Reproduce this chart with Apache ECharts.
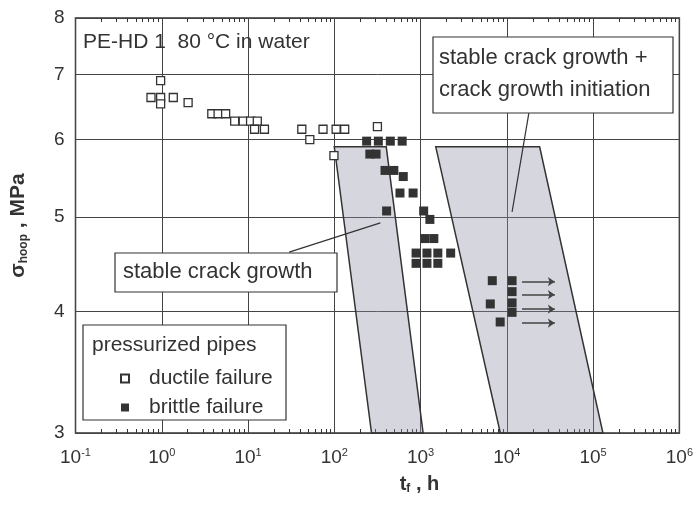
<!DOCTYPE html>
<html>
<head>
<meta charset="utf-8">
<script src="https://cdn.jsdelivr.net/npm/echarts@6/dist/echarts.min.js"></script>
<style>
  html, body { margin: 0; padding: 0; background: #fff; }
  #chart { width: 696px; height: 508px; }
</style>
</head>
<body>
<div id="chart"></div>
<script>
// time to failure t_f (h) and hoop stress (MPa)
const ductileT = [0.97, 0.75, 0.97, 1.36, 0.97, 2.02, 3.8, 4.5, 5.5, 7.0, 8.8, 10.7, 12.8, 11.9, 15.5, 42, 52, 74, 105, 132, 99, 316]
const ductileS = [6.90, 6.63, 6.63, 6.63, 6.53, 6.55, 6.38, 6.38, 6.38, 6.27, 6.27, 6.27, 6.27, 6.15, 6.15, 6.15, 6.0, 6.15, 6.15, 6.15, 5.78, 6.19]
const brittleT = [237, 324, 446, 612, 258, 305, 387, 490, 630, 577, 819, 404, 1086, 1282, 1124, 1425,
  887, 1186, 1585, 2233, 887, 1186, 1585, 6780, 6430, 8370, 11500, 11500, 11500, 11500]
const brittleS = [5.98, 5.98, 5.98, 5.98, 5.80, 5.80, 5.58, 5.58, 5.50, 5.29, 5.29, 5.07, 5.07, 4.97, 4.75, 4.75,
  4.59, 4.59, 4.59, 4.59, 4.48, 4.48, 4.48, 4.30, 4.07, 3.90, 4.30, 4.19, 4.08, 3.99]
// run-outs (arrows)
const runoutT = [15000, 36000]
const runoutS = [4.29, 4.16, 4.02, 3.89]
// shaded regions, corners (t, sigma)
const bandCrackT = [100, 400, 1070, 270]
const bandCrackS = [5.9, 5.9, 3, 3]
const bandInitT = [1500, 24000, 130000, 8400]
const bandInitS = [5.9, 5.9, 3, 3]
// tick labels
const xTicks = [0.1, 1, 10, 100, 1000, 10000, 100000, 1000000]
const yTicks = [3, 4, 5, 6, 7, 8]

const font = 'Liberation Sans'
const ink = '#333'

// minor log ticks 2..9 of every decade
const minorTicks = []
for (let e = -1; e < 6; e++) {
  for (let m = 2; m < 10; m++) minorTicks.push(m * Math.pow(10, e))
}

function band(ts, ss) {
  return {
    type: 'custom',
    z: 1,
    data: [[ts[0], ss[0]]],
    renderItem(params, api) {
      const pts = ts.map((t, i) => api.coord([t, ss[i]]))
      return {
        type: 'polygon',
        shape: { points: pts },
        style: { fill: 'rgba(140,140,165,0.36)', stroke: ink, lineWidth: 1.5 }
      }
    }
  }
}

const chart = echarts.init(document.getElementById('chart'))

const minorAxis = (pos) => ({
  type: 'log',
  position: pos,
  min: 0.1,
  max: 1000000,
  axisLine: { show: false },
  axisLabel: { show: false },
  splitLine: { show: false },
  axisTick: { inside: true, length: 4, lineStyle: { color: ink }, customValues: minorTicks }
})

chart.setOption({
  animation: false,
  grid: { left: 74, right: 12, top: 18, bottom: 75, show: true, borderColor: ink, borderWidth: 1.5 },
  xAxis: [
    {
      type: 'log',
      logBase: 10,
      min: 0.1,
      max: 1000000,
      name: '{t|t}{f|f}{t| , h}',
      nameLocation: 'middle',
      nameGap: 40,
      nameTextStyle: {
        padding: [0, 0, 0, 84],
        rich: {
          t: { fontFamily: font, fontSize: 20, fontWeight: 'bold', color: ink },
          f: { fontFamily: font, fontSize: 12, fontWeight: 'bold', color: ink, padding: [10, 0, 0, 0] }
        }
      },
      axisLine: { show: false },
      axisTick: { show: false, customValues: xTicks },
      axisLabel: {
        customValues: xTicks,
        margin: 14,
        formatter: (v) => '{b|10}{s|' + Math.round(Math.log10(v)) + '}',
        rich: {
          b: { fontFamily: font, fontSize: 19, color: ink },
          s: { fontFamily: font, fontSize: 11, color: ink, padding: [0, 0, 10, 0] }
        }
      },
      splitLine: { show: true, lineStyle: { color: '#444', width: 1 } }
    },
    minorAxis('bottom'),
    minorAxis('top')
  ],
  yAxis: {
    type: 'log',
    logBase: 10,
    min: 3,
    max: 8,
    name: '{s|σ}{h|hoop}{s| , MPa}',
    nameLocation: 'middle',
    nameGap: 46,
    nameRotate: 90,
    nameTextStyle: {
      rich: {
        s: { fontFamily: font, fontSize: 21, fontWeight: 'bold', color: ink },
        h: { fontFamily: font, fontSize: 12, fontWeight: 'bold', color: ink, padding: [10, 0, 0, 0] }
      }
    },
    axisLine: { show: false },
    axisTick: { show: false, customValues: yTicks },
    axisLabel: { customValues: yTicks, margin: 11, fontFamily: font, fontSize: 19, color: ink },
    splitLine: { show: true, lineStyle: { color: '#444', width: 1 } }
  },
  legend: {
    orient: 'vertical',
    left: 115,
    top: 363,
    icon: 'rect',
    itemWidth: 8,
    itemHeight: 8,
    itemGap: 8,
    z: 12,
    textStyle: { fontFamily: font, fontSize: 21, lineHeight: 21, color: ink, padding: [0, 0, 0, 15] },
    data: ['ductile failure', 'brittle failure']
  },
  graphic: [
    { type: 'text', left: 83, top: 32, z: 10, style: { text: 'PE-HD 1  80 °C in water', font: '21px "Liberation Sans"', fill: ink } },
    { type: 'rect', z: 10, shape: { x: 433, y: 37, width: 240, height: 76 }, style: { fill: '#fff', stroke: ink, lineWidth: 1.2 } },
    { type: 'text', z: 11, left: 439, top: 42, style: { text: 'stable crack growth +\ncrack growth initiation', font: '22px "Liberation Sans"', lineHeight: 32, fill: ink } },
    { type: 'rect', z: 10, shape: { x: 115, y: 253, width: 222, height: 39 }, style: { fill: '#fff', stroke: ink, lineWidth: 1.2 } },
    { type: 'text', z: 11, left: 123, top: 259, style: { text: 'stable crack growth', font: '22px "Liberation Sans"', lineHeight: 26, fill: ink } },
    { type: 'rect', z: 10, shape: { x: 83, y: 325, width: 203, height: 95 }, style: { fill: '#fff', stroke: ink, lineWidth: 1.2 } },
    { type: 'text', z: 11, left: 92, top: 333, style: { text: 'pressurized pipes', font: '21px "Liberation Sans"', lineHeight: 24, fill: ink } }
  ],
  series: [
    band(bandCrackT, bandCrackS),
    band(bandInitT, bandInitS),
    {
      name: 'ductile failure',
      type: 'scatter',
      symbol: 'rect',
      symbolSize: 8,
      z: 4,
      itemStyle: { color: '#fff', borderColor: ink, borderWidth: 1.3, opacity: 1 },
      data: ductileT.map((t, i) => [t, ductileS[i]])
    },
    {
      name: 'brittle failure',
      type: 'scatter',
      symbol: 'rect',
      symbolSize: 9,
      z: 5,
      itemStyle: { color: ink, opacity: 1 },
      data: brittleT.map((t, i) => [t, brittleS[i]])
    },
    {
      type: 'lines',
      coordinateSystem: 'cartesian2d',
      z: 5,
      symbol: ['none', 'arrow'],
      symbolSize: 7,
      lineStyle: { color: '#444', width: 1.5, opacity: 1 },
      data: runoutS.map((s) => ({ coords: [[runoutT[0], s], [runoutT[1], s]] }))
    },
    {
      // leader lines from the labels
      type: 'lines',
      coordinateSystem: 'cartesian2d',
      z: 5,
      lineStyle: { color: ink, width: 1.2, opacity: 1 },
      data: [
        { coords: [[30, 4.6], [342, 4.93]] },
        { coords: [[18000, 6.39], [11500, 5.06]] }
      ]
    }
  ]
})
</script>
</body>
</html>
